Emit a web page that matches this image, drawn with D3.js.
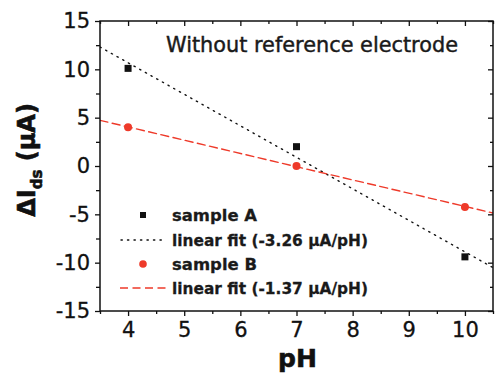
<!DOCTYPE html>
<html><head><meta charset="utf-8">
<script src="https://cdn.jsdelivr.net/npm/d3@7"></script>
<style>body{margin:0;background:#fff}svg{display:block}</style>
</head><body>
<svg id="c" width="495" height="376"></svg>
<script>
const phA = [4, 7, 10];
const valuesA = [10.1, 2.0, -9.4];
const phB = [4, 7, 10];
const valuesB = [4.0, 0.0, -4.25];
const fitSlopes = [-3.26, -1.37];
const fitIntercepts = [23.72, 9.52];
const xTicks = [4, 5, 6, 7, 8, 9, 10];
const yTicks = [-15, -10, -5, 0, 5, 10, 15];
const legendLabels = ["sample A", "linear fit (-3.26 \u03bcA/pH)", "sample B", "linear fit (-1.37 \u03bcA/pH)"];
const title = "Without reference electrode";

(function () {
const red = "#ee3a2a";
const svg = d3.select("#c");
const L = 100, R = 493, T = 21, B = 311;
const x = d3.scaleLinear().domain([3.5, 10.5]).range([L, R]);
const y = d3.scaleLinear().domain([-15, 15]).range([B, T]);
const font = "DejaVu Sans, Arial, sans-serif";

const defs = svg.append("defs");
defs.append("clipPath").attr("id", "clip").append("rect").attr("x", L).attr("y", T).attr("width", R - L).attr("height", B - T);

const fitStyles = [{c: "#111", d: "1.3,5.2", w: 1.4}, {c: red, d: "8,4.5", w: 1.4}];
const g = svg.append("g").attr("clip-path", "url(#clip)");
fitSlopes.forEach((s, i) => {
  const xs = x.domain();
  g.append("line")
    .attr("x1", x(xs[0])).attr("y1", y(fitIntercepts[i] + s * xs[0]))
    .attr("x2", x(xs[1])).attr("y2", y(fitIntercepts[i] + s * xs[1]))
    .attr("stroke", fitStyles[i].c).attr("stroke-width", fitStyles[i].w)
    .attr("stroke-dasharray", fitStyles[i].d).attr("stroke-linecap", "round");
});

const sq = 7;
g.selectAll("rect.a").data(phA).enter().append("rect")
  .attr("x", (d) => x(d) - sq / 2).attr("y", (d, i) => y(valuesA[i]) - sq / 2)
  .attr("width", sq).attr("height", sq).attr("fill", "#111");
g.selectAll("circle.b").data(phB).enter().append("circle")
  .attr("cx", (d) => x(d)).attr("cy", (d, i) => y(valuesB[i]))
  .attr("r", 4).attr("fill", red);

const axStyle = (sel) => { sel.select(".domain").remove(); sel.selectAll("line").attr("stroke", "#111").attr("stroke-width", 1.3); };
const xMinor = d3.range(3.5, 10.51, 0.5).filter(v => !xTicks.includes(v));
const yMinor = d3.range(-12.5, 12.51, 5);

const bot = svg.append("g").attr("transform", `translate(0,${B})`)
  .call(d3.axisBottom(x).tickValues(xTicks).tickSize(5).tickPadding(6).tickFormat(d3.format("d")));
axStyle(bot);
bot.selectAll("text").attr("font-family", font).attr("font-size", 21).attr("fill", "#111")
  .attr("stroke", "#111").attr("stroke-width", 0.3);
svg.append("g").attr("transform", `translate(0,${B})`).call(d3.axisBottom(x).tickValues(xMinor).tickSize(3).tickFormat("")).call(axStyle);

svg.append("g").attr("transform", `translate(0,${T})`)
  .call(d3.axisTop(x).tickValues(xTicks).tickSize(-5).tickFormat("")).call(axStyle);
svg.append("g").attr("transform", `translate(0,${T})`).call(d3.axisTop(x).tickValues(xMinor).tickSize(-3).tickFormat("")).call(axStyle);

const lft = svg.append("g").attr("transform", `translate(${L},0)`)
  .call(d3.axisLeft(y).tickValues(yTicks).tickSize(5).tickPadding(5).tickFormat(d3.format("d")));
axStyle(lft);
lft.selectAll("text").attr("font-family", font).attr("font-size", 21).attr("fill", "#111")
  .attr("stroke", "#111").attr("stroke-width", 0.3).text(d => d < 0 ? "-" + Math.abs(d) : d);
svg.append("g").attr("transform", `translate(${L},0)`).call(d3.axisLeft(y).tickValues(yMinor).tickSize(4).tickFormat("")).call(axStyle);

svg.append("g").attr("transform", `translate(${R},0)`).call(d3.axisRight(y).tickValues(yTicks).tickSize(-5).tickFormat("")).call(axStyle);
svg.append("g").attr("transform", `translate(${R},0)`).call(d3.axisRight(y).tickValues(yMinor).tickSize(-3).tickFormat("")).call(axStyle);

svg.append("rect").attr("x", L).attr("y", T).attr("width", R - L).attr("height", B - T)
  .attr("fill", "none").attr("stroke", "#111").attr("stroke-width", 1.5);

svg.append("text").attr("x", 166).attr("y", 52).attr("font-family", font).attr("font-size", 22)
  .attr("fill", "#1a1a1a").attr("stroke", "#1a1a1a").attr("stroke-width", 0.45)
  .attr("textLength", 292).attr("lengthAdjust", "spacingAndGlyphs").text(title);

svg.append("text").attr("x", (L + R) / 2 + 1).attr("y", 367).attr("text-anchor", "middle")
  .attr("font-family", font).attr("font-weight", "bold").attr("font-size", 25).attr("fill", "#111")
  .attr("stroke", "#111").attr("stroke-width", 0.6).text("pH");

const yl = svg.append("text").attr("transform", "translate(35,160) rotate(-90)").attr("text-anchor", "middle")
  .attr("font-family", font).attr("font-weight", "bold").attr("font-size", 24).attr("fill", "#111")
  .attr("stroke", "#111").attr("stroke-width", 0.6);
yl.append("tspan").text("\u0394I");
yl.append("tspan").attr("font-size", 15).attr("dy", 7).text("ds");
yl.append("tspan").attr("dy", -7).text(" (\u03bcA)");

const rowY = [215, 240, 264, 288];
const lg = svg.append("g");
lg.append("rect").attr("x", 143 - 3).attr("y", rowY[0] - 3).attr("width", 6).attr("height", 6).attr("fill", "#111");
lg.append("line").attr("x1", 121).attr("x2", 164).attr("y1", rowY[1]).attr("y2", rowY[1])
  .attr("stroke", "#111").attr("stroke-width", 1.4).attr("stroke-dasharray", fitStyles[0].d).attr("stroke-linecap", "round");
lg.append("circle").attr("cx", 143).attr("cy", rowY[2]).attr("r", 3.8).attr("fill", red);
lg.append("line").attr("x1", 120).attr("x2", 166).attr("y1", rowY[3]).attr("y2", rowY[3])
  .attr("stroke", red).attr("stroke-width", 1.4).attr("stroke-dasharray", fitStyles[1].d);
const legendLens = [85, 196, 85, 196];
lg.selectAll("text.l").data(legendLabels).enter().append("text")
  .attr("x", 172).attr("y", (d, i) => rowY[i] + 6).attr("font-family", font).attr("font-weight", "bold")
  .attr("font-size", 16.5).attr("fill", "#1a1a1a").attr("stroke", "#1a1a1a").attr("stroke-width", 0.3)
  .attr("textLength", (d, i) => legendLens[i]).attr("lengthAdjust", "spacingAndGlyphs").text(d => d);
})();
</script>
</body></html>
